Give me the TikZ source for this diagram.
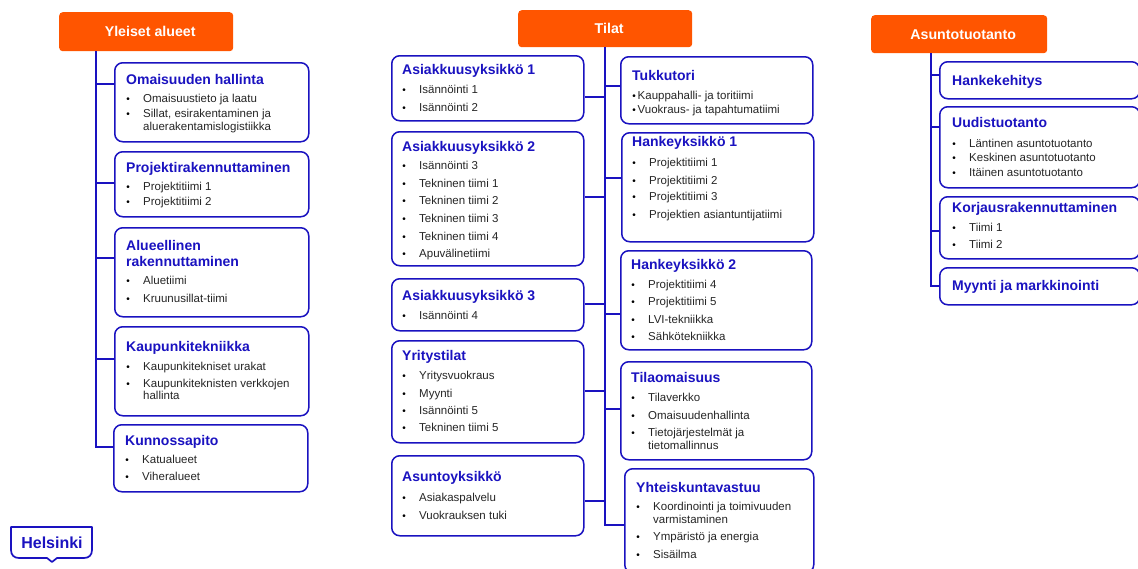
\documentclass[tikz,border=0pt]{standalone}
\usepackage{fontspec}
\setmainfont{Liberation Sans}
\definecolor{hkiblue}{HTML}{1A12C0}
\definecolor{hkiorange}{HTML}{FF5500}
\definecolor{itemtext}{HTML}{262626}
\newcounter{txtc}
\tikzset{
  headbox/.style={draw=none,fill=hkiorange,rounded corners=3.5pt,anchor=north west,inner sep=0pt,text=white,font=\fontsize{14.2}{14.2}\selectfont\bfseries},
  unitbox/.style={draw=hkiblue,line width=1.5pt,fill=white,rounded corners=8pt,anchor=north west,inner sep=0pt},
  conn/.style={draw=hkiblue,line width=1.4pt},
  titletext/.style={anchor=base west,inner sep=0pt,text=hkiblue,font=\fontsize{14}{14}\selectfont\bfseries},
  itemlabel/.style={anchor=base west,inner sep=0pt,text=itemtext,font=\fontsize{11.5}{11.5}\selectfont},
  bulletmark/.style={anchor=base,inner sep=0pt,text=black,font=\fontsize{10}{10}\selectfont},
}
\newcommand{\headat}[6]{\node[headbox,minimum width=#4pt-#2pt,minimum height=#5pt-#3pt] (#1) at (#2,#3) {\hspace*{8pt}#6};}
\newcommand{\unitat}[5]{\node[unitbox,minimum width=#4pt-#2pt,minimum height=#5pt-#3pt] (#1) at (#2,#3) {};}
\newcommand{\ttl}[3]{\stepcounter{txtc}\node[titletext] (t\thetxtc) at (#1,#2+5) {#3};}
\newcommand{\itm}[4]{\stepcounter{txtc}\node[bulletmark] (b\thetxtc) at (#1,#3+4) {•};\node[itemlabel] (i\thetxtc) at (#2,#3+4) {#4};}
\newcommand{\cont}[3]{\stepcounter{txtc}\node[itemlabel] (c\thetxtc) at (#1,#2+4) {#3};}
\newcommand{\branch}[3]{\draw[conn] (#1 |- 0,#3) -- (#2.west |- 0,#3);}
\newcommand{\branchl}[3]{\draw[conn] (#1 |- 0,#3) -- (#2.east |- 0,#3);}
\begin{document}
\begin{tikzpicture}[x=1pt,y=-1pt]
\useasboundingbox (0,0) rectangle (1138,568);
\clip (0,0) rectangle (1138,568);
\coordinate (tr1) at (96,447);
\coordinate (tr2) at (605,525);
\coordinate (tr3) at (931,286);
% ---- left column
\headat{hA}{59}{12}{233}{51}{Yleiset alueet}
\unitat{a1}{114}{62}{308}{141}
\unitat{a2}{114}{151}{308}{216}
\unitat{a3}{114}{227}{308}{316}
\unitat{a4}{114}{326}{308}{415}
\unitat{a5}{113}{424}{307}{491}
\draw[conn] (hA.south -| tr1) -- (tr1) -- (a5.west |- tr1);
\branch{tr1}{a1}{84}
\branch{tr1}{a2}{183}
\branch{tr1}{a3}{258}
\branch{tr1}{a4}{359}
\ttl{126}{79}{Omaisuuden hallinta}
\itm{128}{143}{98}{Omaisuustieto ja laatu}
\itm{128}{143}{113}{Sillat, esirakentaminen ja}
\cont{143}{126}{aluerakentamislogistiikka}
\ttl{126}{167}{Projektirakennuttaminen}
\itm{128}{143}{186}{Projektitiimi 1}
\itm{128}{143}{201}{Projektitiimi 2}
\ttl{126}{245}{Alueellinen}
\ttl{126}{261}{rakennuttaminen}
\itm{128}{143}{280}{Aluetiimi}
\itm{128}{143}{298}{Kruunusillat-tiimi}
\ttl{126}{346}{Kaupunkitekniikka}
\itm{128}{143}{366}{Kaupunkitekniset urakat}
\itm{128}{143}{383}{Kaupunkiteknisten verkkojen}
\cont{143}{395}{hallinta}
\ttl{125}{440}{Kunnossapito}
\itm{127}{142}{459}{Katualueet}
\itm{127}{142}{476}{Viheralueet}
% ---- logo
\draw[hkiblue,line width=1.7pt,line join=round] (11,527) -- (92,527) -- (92,550) .. controls (92,555) and (89,558) .. (84,558) -- (57,558) -- (52,562) -- (47,558) -- (19,558) .. controls (14,558) and (11,555) .. (11,550) -- cycle;
\node[inner sep=0pt,text=hkiblue,font=\fontsize{16}{16}\selectfont\bfseries] (logo) at (52,543) {Helsinki};
% ---- middle column
\headat{hB}{518}{10}{692}{47}{Tilat}
\unitat{b1}{391}{55}{583}{120}
\unitat{b2}{391}{131}{583}{265}
\unitat{b3}{391}{278}{583}{330}
\unitat{b4}{391}{340}{583}{442}
\unitat{b5}{391}{455}{583}{535}
\unitat{c1}{620}{56}{812}{123}
\unitat{c2}{621}{132}{813}{241}
\unitat{c3}{620}{250}{811}{349}
\unitat{c4}{620}{361}{811}{459}
\unitat{c5}{624}{468}{813}{572}
\draw[conn] (hB.south -| tr2) -- (tr2) -- (c5.west |- tr2);
\branchl{tr2}{b1}{97}
\branchl{tr2}{b2}{197}
\branchl{tr2}{b3}{304}
\branchl{tr2}{b4}{391}
\branchl{tr2}{b5}{501}
\branch{tr2}{c1}{86}
\branch{tr2}{c2}{178}
\branch{tr2}{c3}{314}
\branch{tr2}{c4}{409}
\ttl{402}{69}{Asiakkuusyksikkö 1}
\itm{404}{419}{89}{Isännöinti 1}
\itm{404}{419}{107}{Isännöinti 2}
\ttl{402}{146}{Asiakkuusyksikkö 2}
\itm{404}{419}{165}{Isännöinti 3}
\itm{404}{419}{183}{Tekninen tiimi 1}
\itm{404}{419}{200}{Tekninen tiimi 2}
\itm{404}{419}{218}{Tekninen tiimi 3}
\itm{404}{419}{236}{Tekninen tiimi 4}
\itm{404}{419}{253}{Apuvälinetiimi}
\ttl{402}{295}{Asiakkuusyksikkö 3}
\itm{404}{419}{315}{Isännöinti 4}
\ttl{402}{355}{Yritystilat}
\itm{404}{419}{375}{Yritysvuokraus}
\itm{404}{419}{393}{Myynti}
\itm{404}{419}{410}{Isännöinti 5}
\itm{404}{419}{427}{Tekninen tiimi 5}
\ttl{402}{476}{Asuntoyksikkö}
\itm{404}{419}{497}{Asiakaspalvelu}
\itm{404}{419}{515}{Vuokrauksen tuki}
\ttl{632}{75}{Tukkutori}
\itm{634}{637.5}{95}{Kauppahalli- ja toritiimi}
\itm{634}{637.5}{109}{Vuokraus- ja tapahtumatiimi}
\ttl{632}{141}{Hankeyksikkö 1}
\itm{634}{649}{162}{Projektitiimi 1}
\itm{634}{649}{180}{Projektitiimi 2}
\itm{634}{649}{196}{Projektitiimi 3}
\itm{634}{649}{214}{Projektien asiantuntijatiimi}
\ttl{631}{264}{Hankeyksikkö 2}
\itm{633}{648}{284}{Projektitiimi 4}
\itm{633}{648}{301}{Projektitiimi 5}
\itm{633}{648}{319}{LVI-tekniikka}
\itm{633}{648}{336}{Sähkötekniikka}
\ttl{631}{377}{Tilaomaisuus}
\itm{633}{648}{397}{Tilaverkko}
\itm{633}{648}{415}{Omaisuudenhallinta}
\itm{633}{648}{432}{Tietojärjestelmät ja}
\cont{648}{445}{tietomallinnus}
\ttl{636}{487}{Yhteiskuntavastuu}
\itm{638}{653}{506}{Koordinointi ja toimivuuden}
\cont{653}{519}{varmistaminen}
\itm{638}{653}{536}{Ympäristö ja energia}
\itm{638}{653}{554}{Sisäilma}
% ---- right column
\headat{hC}{871}{15}{1047}{53}{Asuntotuotanto}
\unitat{d1}{939}{61}{1139}{98}
\unitat{d2}{939}{106}{1139}{187}
\unitat{d3}{939}{196}{1139}{258}
\unitat{d4}{939}{267}{1139}{304}
\draw[conn] (hC.south -| tr3) -- (tr3) -- (d4.west |- tr3);
\branch{tr3}{d1}{75}
\branch{tr3}{d2}{127}
\branch{tr3}{d3}{231}
\ttl{952}{80}{Hankekehitys}
\ttl{952}{122}{Uudistuotanto}
\itm{954}{969}{143}{Läntinen asuntotuotanto}
\itm{954}{969}{157}{Keskinen asuntotuotanto}
\itm{954}{969}{172}{Itäinen asuntotuotanto}
\ttl{952}{207}{Korjausrakennuttaminen}
\itm{954}{969}{227}{Tiimi 1}
\itm{954}{969}{244}{Tiimi 2}
\ttl{952}{285}{Myynti ja markkinointi}
\end{tikzpicture}
\end{document}
